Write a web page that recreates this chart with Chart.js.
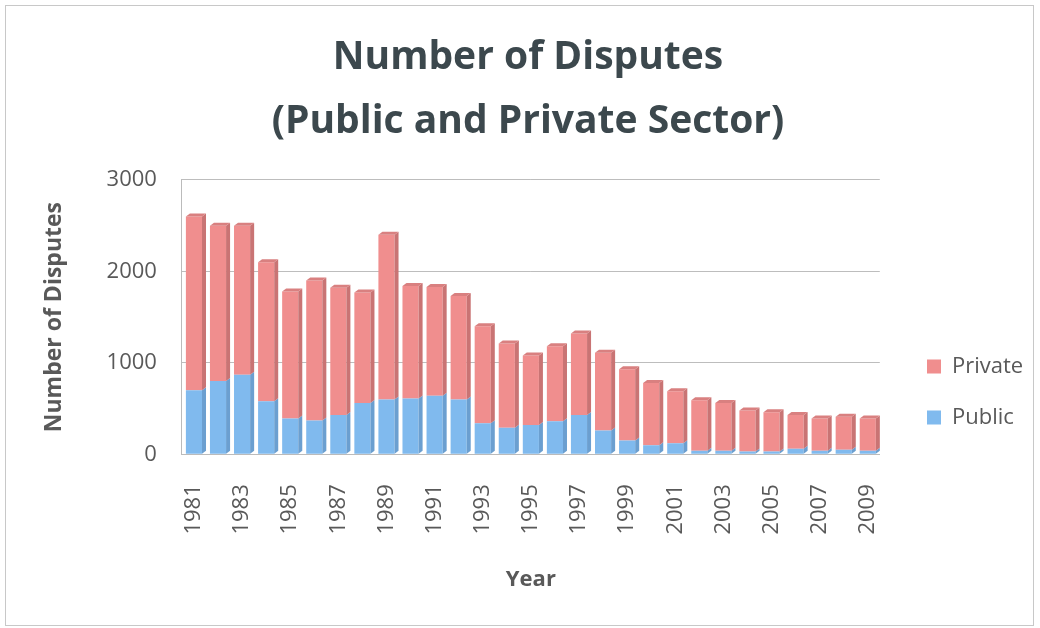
<!DOCTYPE html>
<html>
<head>
<meta charset="utf-8">
<script src="https://cdn.jsdelivr.net/npm/chart.js@4"></script>
<style>
html,body{margin:0;padding:0;background:#fff;}
#wrap{position:relative;width:1040px;height:628px;}
#frame{position:absolute;left:5px;top:5px;width:1029px;height:621px;border:1px solid #c8c8c8;box-sizing:border-box;pointer-events:none;}
canvas{position:absolute;left:0;top:0;}
</style>
</head>
<body>
<div id="wrap"><canvas id="c" width="1040" height="628"></canvas><div id="frame"></div></div>
<script>
const years = ['1981','1982','1983','1984','1985','1986','1987','1988','1989','1990','1991','1992','1993','1994','1995','1996','1997','1998','1999','2000','2001','2002','2003','2004','2005','2006','2007','2008','2009'];
const publicSector = [700,800,870,580,390,370,430,560,600,610,640,600,340,290,320,360,430,260,150,100,120,40,40,30,30,60,40,50,40];
const privateSector = [1900,1700,1630,1520,1390,1530,1390,1210,1800,1230,1190,1130,1060,920,760,820,890,850,780,680,570,550,520,450,430,370,350,360,350];
const yTicks = [0,1000,2000,3000];

const TXT = '#595959';
const FONT = 'Open Sans';
const sideColors = ['#6b9fd0', '#c97474'];
const topColors = ['#9cc8f0', '#d98080'];

// 3D-look side and top faces, derived from each bar element's geometry
const bar3d = {
  id: 'bar3d',
  afterDatasetsDraw(chart) {
    const ctx = chart.ctx;
    const dx = 4, dy = 3;
    const n = chart.data.datasets.length;
    chart.data.datasets.forEach((ds, di) => {
      const meta = chart.getDatasetMeta(di);
      meta.data.forEach((el) => {
        const p = el.getProps(['x','y','base','width'], true);
        const r = p.x + p.width / 2, l = p.x - p.width / 2;
        ctx.save();
        ctx.fillStyle = sideColors[di];
        ctx.beginPath();
        ctx.moveTo(r, p.y); ctx.lineTo(r + dx, p.y - dy); ctx.lineTo(r + dx, p.base - dy); ctx.lineTo(r, p.base);
        ctx.closePath(); ctx.fill();
        if (di === n - 1) {
          ctx.fillStyle = topColors[di];
          ctx.beginPath();
          ctx.moveTo(l, p.y); ctx.lineTo(l + dx, p.y - dy); ctx.lineTo(r + dx, p.y - dy); ctx.lineTo(r, p.y);
          ctx.closePath(); ctx.fill();
        }
        ctx.restore();
      });
    });
  }
};

// place legend block (boxes at x≈927, centred around y≈392)
const legendPlace = {
  id: 'legendPlace',
  afterLayout(chart) {
    const lg = chart.legend;
    const pad = lg.options.labels.padding;
    const shiftX = 927 - (lg.left + pad);
    const shiftY = 392 - (lg.top + lg.bottom) / 2;
    lg.left += shiftX; lg.right += shiftX;
    lg.top += shiftY; lg.bottom += shiftY;
  }
};

new Chart(document.getElementById('c'), {
  type: 'bar',
  data: {
    labels: years,
    datasets: [
      {label:'Public', data: publicSector, backgroundColor:'#80baee', borderWidth:0, barPercentage:0.67, categoryPercentage:1},
      {label:'Private', data: privateSector, backgroundColor:'#f08e8e', borderWidth:0, barPercentage:0.67, categoryPercentage:1}
    ]
  },
  plugins: [bar3d, legendPlace],
  options: {
    responsive:false, animation:false,
    layout:{padding:{left:41,right:25,top:26,bottom:35}},
    plugins:{
      title:{display:true, text:['Number of Disputes','(Public and Private Sector)'], color:'#3c484d',
        font:{family:FONT, size:39, weight:'bold', lineHeight:1.64}, padding:{top:0,bottom:26}},
      legend:{position:'right', reverse:true, labels:{color:TXT, font:{family:FONT, size:22}, boxWidth:14, boxHeight:14, padding:29}},
      tooltip:{enabled:false}
    },
    scales:{
      x:{stacked:true, grid:{display:false}, border:{color:'#bbbbbb'},
        ticks:{color:TXT, font:{family:FONT, size:22}, autoSkip:false, minRotation:90, maxRotation:90, padding:22,
          callback:function(v,i){return i%2===0?years[i]:'';}},
        title:{display:true,text:'Year',color:TXT,font:{family:FONT,size:22,weight:'bold'},padding:{top:10,bottom:0}}},
      y:{stacked:true, min:0, max:3000, afterBuildTicks:function(a){a.ticks=yTicks.map(v=>({value:v}));},
        grid:{color:'#bdbdbd', drawTicks:false}, border:{color:'#bbbbbb'},
        ticks:{color:TXT, font:{family:FONT, size:22}, padding:25, callback:function(v){return String(v);}},
        title:{display:true,text:'Number of Disputes',color:TXT,font:{family:FONT,size:23,weight:'bold'},padding:{top:0,bottom:13}}}
    }
  }
});
</script>
</body>
</html>
